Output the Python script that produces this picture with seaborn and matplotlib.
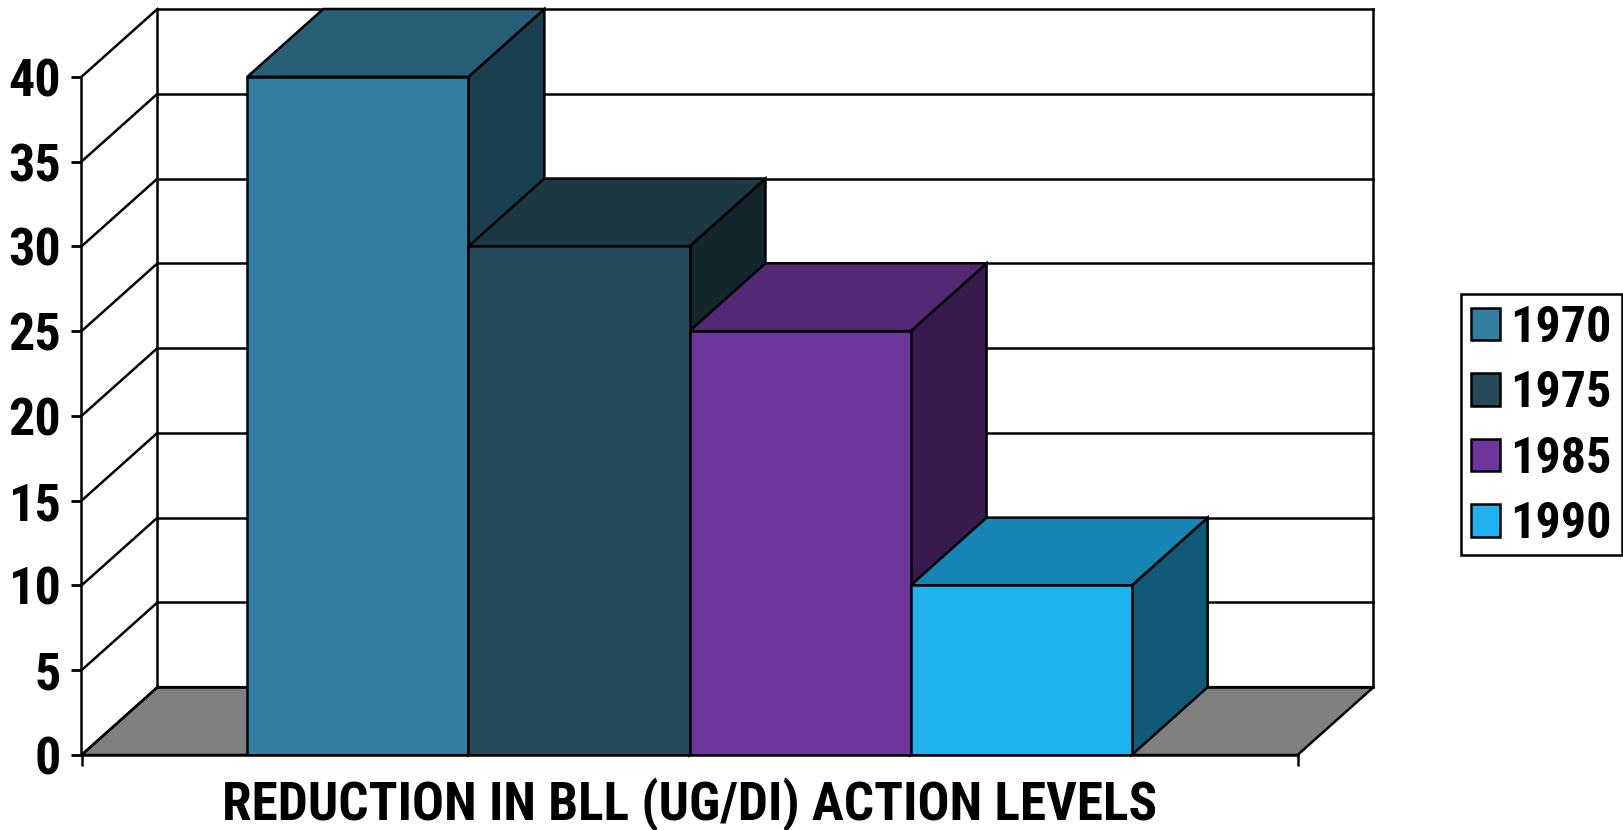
"""Pseudo-3D column chart of BLL action levels, drawn on top of a seaborn barplot."""
import matplotlib
matplotlib.use("Agg")
import matplotlib.pyplot as plt
from matplotlib.patches import Rectangle
import pandas as pd
import seaborn as sns

YEARS = ["1970", "1975", "1985", "1990"]
LEVELS = [40, 30, 25, 10]
COLORS = ["#337DA0", "#264A5A", "#6E359C", "#1FB2EE"]
Y_TICKS = [0, 5, 10, 15, 20, 25, 30, 35, 40]
GROUP = "REDUCTION IN BLL (UG/DI) ACTION LEVELS"

# size of the fake depth, in data units
DEPTH_X = 0.0687
DEPTH_Y = 4.0
FLOOR_HALF = 0.55

W, H = 1624, 830
LINE = 1.8
FONT = ["Roboto Condensed", "Liberation Sans"]
FS = 37.5


def shade(hex_color, k):
    r, g, b = matplotlib.colors.to_rgb(hex_color)
    return (r * k, g * k, b * k)


sns.set_theme(style="white")
plt.rcParams["font.family"] = FONT
plt.rcParams["font.weight"] = "bold"

df = pd.DataFrame({"group": [GROUP] * 4, "year": YEARS, "level": LEVELS})

fig = plt.figure(figsize=(W / 100, H / 100), dpi=100)
# axes box in pixels: x 81.5..1373.5, y 9..755
ax = fig.add_axes([81.5 / W, 1 - 755 / H, (1373.5 - 81.5) / W, (755 - 9) / H])

sns.barplot(data=df, x="group", y="level", hue="year", hue_order=YEARS,
            palette=COLORS, width=0.8, saturation=1, edgecolor="black",
            linewidth=LINE, ax=ax)

ax.set_xlim(-FLOOR_HALF, FLOOR_HALF + DEPTH_X)
ax.set_ylim(0, max(Y_TICKS) + DEPTH_Y)

x0, x1 = -FLOOR_HALF, FLOOR_HALF
kw = dict(color="black", lw=LINE, solid_capstyle="projecting", clip_on=False)

# floor
ax.fill([x0, x1, x1 + DEPTH_X, x0 + DEPTH_X], [0, 0, DEPTH_Y, DEPTH_Y],
        facecolor="#808080", edgecolor="black", lw=LINE, zorder=1)

# back wall + gridlines
for t in Y_TICKS:
    ax.plot([x0 + DEPTH_X, x1 + DEPTH_X], [t + DEPTH_Y] * 2, zorder=1.5, **kw)
    ax.plot([x0, x0 + DEPTH_X], [t, t + DEPTH_Y], zorder=1.5, **kw)
for xb in (x0 + DEPTH_X, x1 + DEPTH_X):
    ax.plot([xb, xb], [DEPTH_Y, max(Y_TICKS) + DEPTH_Y], zorder=1.5, **kw)

# top and side faces, left to right so later bars sit over earlier sides
for i, (bar, color) in enumerate(zip(ax.patches[:len(YEARS)], COLORS)):
    left, right = bar.get_x(), bar.get_x() + bar.get_width()
    top = bar.get_height()
    bar.set_zorder(20)
    ax.fill([right, right + DEPTH_X, right + DEPTH_X, right],
            [0, DEPTH_Y, top + DEPTH_Y, top],
            facecolor=shade(color, 0.5), edgecolor="black", lw=LINE,
            zorder=3 + i * 2, clip_on=False)
    ax.fill([left, right, right + DEPTH_X, left + DEPTH_X],
            [top, top, top + DEPTH_Y, top + DEPTH_Y],
            facecolor=shade(color, 0.75), edgecolor="black", lw=LINE,
            zorder=4 + i * 2, clip_on=False)

# axes
sns.despine(ax=ax, top=True, right=True)
ax.spines["left"].set_bounds(0, max(Y_TICKS))
ax.spines["bottom"].set_bounds(x0, x1)
for side in ("left", "bottom"):
    ax.spines[side].set_color("black")
    ax.spines[side].set_linewidth(LINE)
    ax.spines[side].set_zorder(30)

ax.set_yticks(Y_TICKS)
ax.set_ylabel("")
ax.tick_params(axis="y", left=True, length=7, width=LINE + 0.2, color="black", pad=7.5,
               labelsize=FS, labelcolor="black")
ax.set_xticks([x0, x1])
ax.set_xticklabels(["", ""])
ax.tick_params(axis="x", bottom=True, length=8, width=LINE, color="black")

ax.set_xlabel(GROUP, fontsize=38.3, fontweight="bold", color="black", labelpad=5)
ax.xaxis.label.set_x((0 - x0) / (x1 + DEPTH_X - x0))

# legend has no frame of its own, its box is drawn separately so the padding is even
leg = ax.legend(loc="upper left", bbox_to_anchor=(1461 / W, 1 - 294 / H),
                bbox_transform=fig.transFigure, fontsize=36, frameon=False,
                borderaxespad=0, borderpad=0.21, labelspacing=0.37, handlelength=0.57,
                handleheight=0.62, handletextpad=0.2)
for text in leg.get_texts():
    text.set_color("black")
fig.add_artist(Rectangle((1461 / W, 1 - 555 / H), (1622 - 1461) / W, (555 - 294) / H,
                         transform=fig.transFigure, facecolor="none",
                         edgecolor="black", lw=LINE))

fig.savefig("out.png", dpi=100)
